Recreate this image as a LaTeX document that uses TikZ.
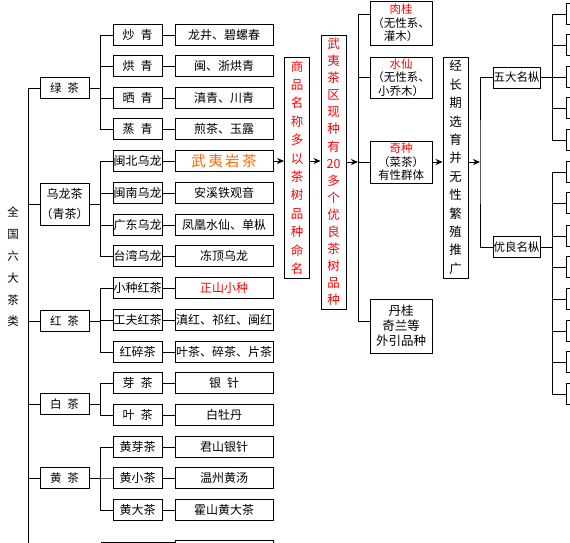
\documentclass[tikz,border=0pt]{standalone}
\usepackage{fontspec}
\setmainfont{Noto Sans CJK SC}
\usetikzlibrary{arrows.meta}
\definecolor{hongse}{RGB}{255,0,0}
\definecolor{chengse}{RGB}{255,102,0}
\newcommand{\jian}{\hspace{.5em}}
\tikzset{% 
    box/.style={draw,line width=0.9pt,inner sep=0pt,minimum height=21pt,
      font=\fontsize{12}{14}\selectfont},
    lvA/.style={box,minimum width=49pt,font=\fontsize{11.5}{20}\selectfont},
    lvB/.style={box,minimum width=49pt},
    lvC/.style={box,minimum width=98pt},
    colbox/.style={box,align=center,minimum width=25pt,
      font=\fontsize{12.5}{#1}\selectfont},
    sidebox/.style={box,minimum width=62pt,align=center,
      font=\fontsize{11.5}{13.5}\selectfont},
    kindbox/.style={box,minimum width=47pt,font=\fontsize{11.5}{13}\selectfont},
    rbox/.style={box,minimum width=54pt},
    link/.style={line width=0.8pt},
    flow/.style={link,-{Stealth[length=7pt,width=6pt]}},
}

\begin{document}
\begin{tikzpicture}[x=1pt,y=-1pt]
 \useasboundingbox (0,0) rectangle (570,543);
 \clip (0,0) rectangle (570,543);
 \node[font=\fontsize{11.5}{21.8}\selectfont,align=center] (quan) at (13,267)
  {全\\国\\六\\大\\茶\\类};
 % first level
 \node[lvA] (a1) at (64.5,88) {绿\jian 茶};
 \node[lvA,minimum height=42pt,align=center,font=\fontsize{12}{20}\selectfont]
  (a2) at (64.5,204) {乌龙茶\\（青茶）};
 \node[lvA] (a3) at (64.5,321) {红\jian 茶};
 \node[lvA] (a4) at (64.5,404) {白\jian 茶};
 \node[lvA] (a5) at (64.5,478) {黄\jian 茶};
 \coordinate (zhu) at (28,88);
 \coordinate (zhuEnd) at (28,543);
 \draw[link] (a1.west) -- (zhu) -- (zhuEnd);
 \foreach \A in {2,...,5}
 {\draw[link] (a\A.west) -- (a\A.west -| zhu);}
 % second and third level
 \foreach \Y/\B/\C [count=\i] in {
  35/炒\jian 青/龙井、碧螺春,
  66/烘\jian 青/闽、浙烘青,
  98/晒\jian 青/滇青、川青,
  129/蒸\jian 青/煎茶、玉露,
  161/闽北乌龙/{\color{chengse}\fontsize{14.5}{16}\selectfont 武\,夷\,岩\,茶},
  193/闽南乌龙/安溪铁观音,
  225/广东乌龙/凤凰水仙、单枞,
  256/台湾乌龙/冻顶乌龙,
  288/小种红茶/{\color{hongse}正山小种},
  320/工夫红茶/滇红、祁红、闽红,
  352/红碎茶/叶茶、碎茶、片茶,
  383/芽\jian 茶/银\jian 针,
  415/叶\jian 茶/白牡丹,
  447/黄芽茶/君山银针,
  478/黄小茶/温州黄汤,
  510/黄大茶/霍山黄大茶}
 {\node[lvB] (b\i) at (137.5,\Y) {\B};
  \node[lvC] (c\i) at (224,\Y) {\C};
  \draw[link] (b\i) -- (c\i);}
 \foreach \A/\C in {1/1,1/2,1/3,1/4,2/5,2/6,2/7,2/8,3/9,3/10,3/11,4/12,4/13,
  5/14,5/15,5/16}
 {\draw[link] (b\C.west) -- ++(-12,0) |- (a\A.east);}
 \coordinate (hei) at (101,542);
 \node[lvC] (c17) at (224,551) {普洱茶、六堡茶};
 \draw[link] (hei) -- (hei -| c17.west);
 % Wuyi columns
 \node[colbox=18.4,minimum height=221pt,text=hongse] (ming) at (297,167.5)
  {商\\品\\名\\称\\多\\以\\茶\\树\\品\\种\\命\\名};
 \node[colbox=17.1,minimum height=274pt,text=hongse] (zhong) at (333.5,172)
  {武\\夷\\茶\\区\\现\\种\\有\\20\\多\\个\\优\\良\\茶\\树\\品\\种};
 \draw[flow] (c5.east) -- (c5.east -| ming.west);
 \draw[flow] (c5.east -| ming.east) -- (c5.east -| zhong.west);
 \node[sidebox,minimum height=44pt] (rou) at (401,23)
  {\textcolor{hongse}{肉桂}\\（无性系、\\灌木）};
 \node[sidebox,minimum height=41pt] (shui) at (401,77.5)
  {\textcolor{hongse}{水仙}\\（无性系、\\小乔木）};
 \node[sidebox,minimum height=42pt] (qi) at (401,162)
  {\textcolor{hongse}{奇种}\\（菜茶）\\有性群体};
 \node[sidebox,minimum height=54pt,font=\fontsize{12.5}{15}\selectfont] (dan)
  at (401,326) {丹桂\\奇兰等\\外引品种};
 \coordinate (gan) at (358,14);
 \coordinate (ganEnd) at (358,321);
 \draw[link] (gan -| rou.west) -- (gan) -- (ganEnd) -- (ganEnd -| dan.west);
 \draw[link] (gan |- shui.west) -- (shui.west);
 \draw[link] (gan |- qi.west) -- (qi.west);
 \draw[flow] (zhong.east |- qi.west) -- (gan |- qi.west);
 \node[colbox=18.4,minimum height=221pt] (xuan) at (455.5,167.5)
  {经\\长\\期\\选\\育\\并\\无\\性\\繁\\殖\\推\\广};
 \draw[flow] (qi.east) -- (qi.east -| xuan.west);
 % famous cultivars
 \node[kindbox] (wu) at (516.5,77.5) {五大名枞};
 \node[kindbox] (you) at (516.5,247) {优良名枞};
 \coordinate (gan2) at (480,162);
 \draw[link] (wu.west) -| (gan2) |- (you.west);
 \draw[flow] (xuan.east |- gan2) -- (gan2);
 \foreach \Y [count=\i] in {14,45,77,108,140}
 {\node[rbox] (w\i) at (593,\Y) {};
  \draw[link] (w\i.west) -- ++(-13,0) |- (wu.east);}
 \foreach \Y [count=\i] in {172,203,236,267,299,331,362,394}
 {\node[rbox] (y\i) at (593,\Y) {};
  \draw[link] (y\i.west) -- ++(-13,0) |- (you.east);}
\end{tikzpicture}
\end{document}
